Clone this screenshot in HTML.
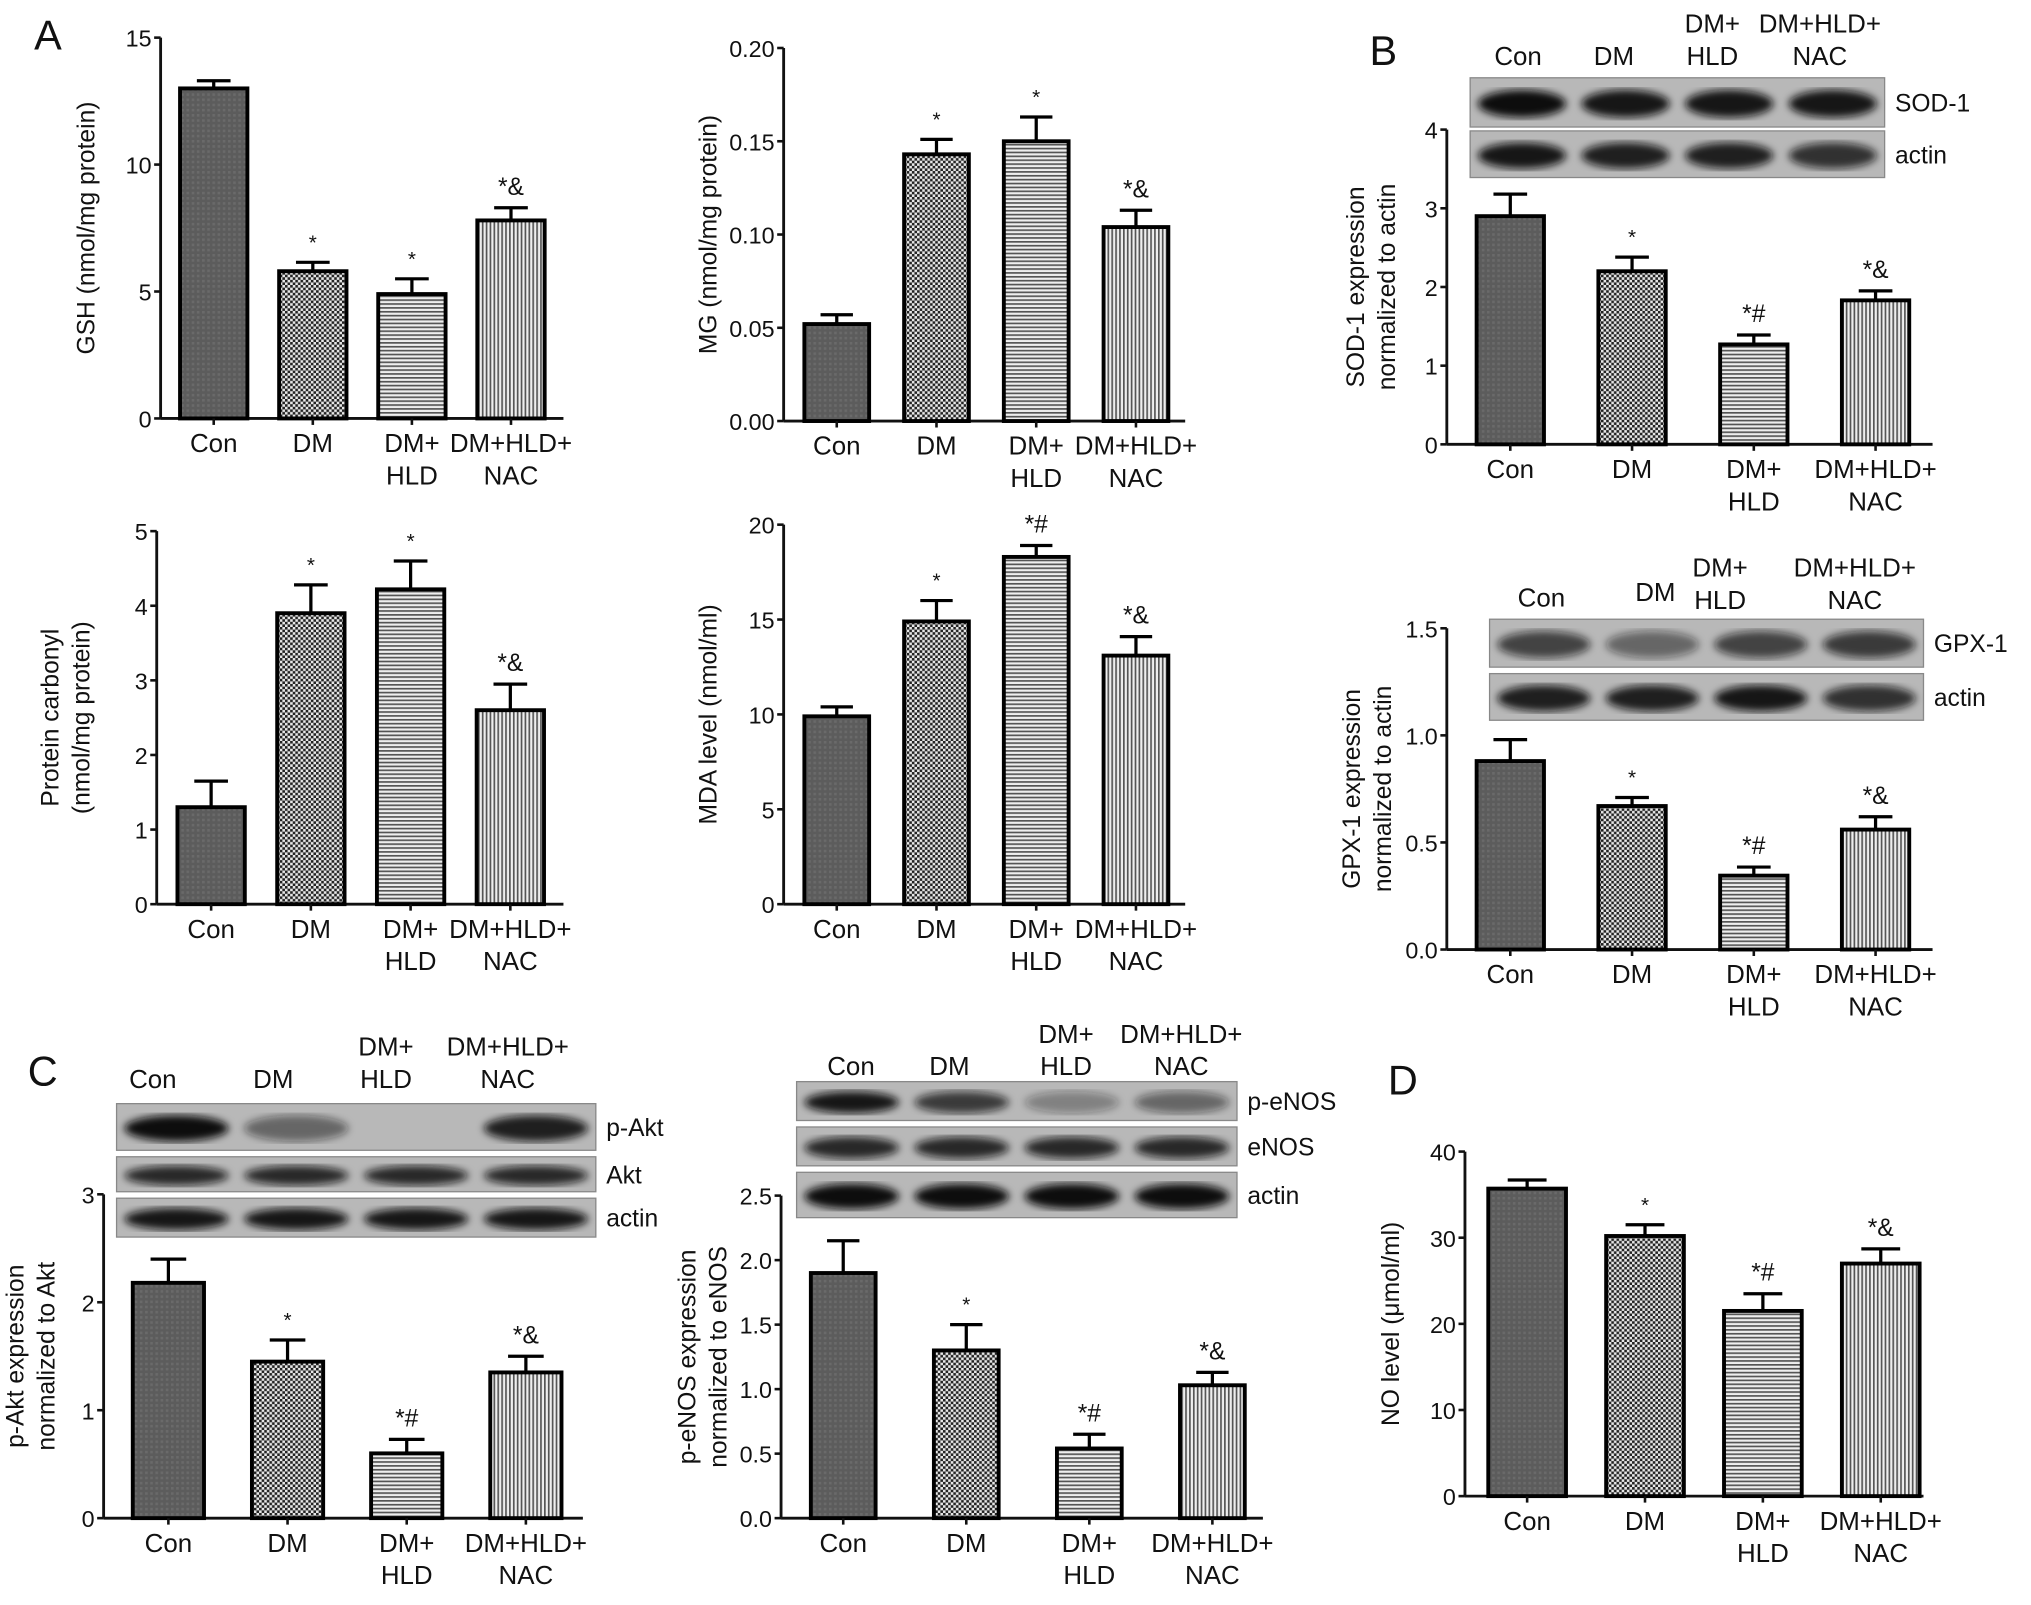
<!DOCTYPE html>
<html><head><meta charset="utf-8"><style>
html,body{margin:0;padding:0;background:#fff}
svg{display:block}
text{font-family:"Liberation Sans",sans-serif;fill:#111}
</style></head><body>
<svg id="fig" width="2031" height="1605" viewBox="0 0 1568 1239" xmlns="http://www.w3.org/2000/svg">
<defs>
<pattern id="pCon" width="4" height="4" patternUnits="userSpaceOnUse"><rect width="4" height="4" fill="#5c5c5c"/><rect width="2" height="2" fill="#6a6a6a"/></pattern>
<pattern id="pDM" width="4" height="4" patternUnits="userSpaceOnUse"><rect width="4" height="4" fill="#e8e8e8"/><rect width="2" height="2" fill="#222"/><rect x="2" y="2" width="2" height="2" fill="#222"/></pattern>
<pattern id="pHLD" width="4" height="3" patternUnits="userSpaceOnUse"><rect width="4" height="3" fill="#eee"/><rect width="4" height="1.3" fill="#555"/></pattern>
<pattern id="pNAC" width="3" height="4" patternUnits="userSpaceOnUse"><rect width="3" height="4" fill="#eee"/><rect width="1.3" height="4" fill="#555"/></pattern>
<filter id="blur"><feGaussianBlur stdDeviation="3"/></filter>
</defs>
<g id="root"></g>
</svg>
<script>
const NS="http://www.w3.org/2000/svg";
const categories=[["Con"],["DM"],["DM+","HLD"],["DM+HLD+","NAC"]];
const gshValues=[13.0,5.8,4.9,7.8];
const gshErrors=[0.3,0.35,0.6,0.5];
const gshAnn=["","*","*","*&"];
const gshTicks=[0,5,10,15];
const mgValues=[0.052,0.143,0.150,0.104];
const mgErrors=[0.005,0.008,0.013,0.009];
const mgAnn=["","*","*","*&"];
const mgTicks=["0.00","0.05","0.10","0.15","0.20"];
const pcValues=[1.3,3.9,4.22,2.6];
const pcErrors=[0.35,0.38,0.38,0.35];
const pcAnn=["","*","*","*&"];
const pcTicks=[0,1,2,3,4,5];
const mdaValues=[9.9,14.9,18.3,13.1];
const mdaErrors=[0.5,1.1,0.6,1.0];
const mdaAnn=["","*","*#","*&"];
const mdaTicks=[0,5,10,15,20];
const sodValues=[2.9,2.2,1.27,1.83];
const sodErrors=[0.28,0.18,0.12,0.12];
const sodAnn=["","*","*#","*&"];
const sodTicks=[0,1,2,3,4];
const gpxValues=[0.88,0.67,0.345,0.56];
const gpxErrors=[0.1,0.04,0.04,0.06];
const gpxAnn=["","*","*#","*&"];
const gpxTicks=["0.0","0.5","1.0","1.5"];
const aktValues=[2.18,1.45,0.6,1.35];
const aktErrors=[0.22,0.2,0.13,0.15];
const aktAnn=["","*","*#","*&"];
const aktTicks=[0,1,2,3];
const enosValues=[1.9,1.3,0.54,1.03];
const enosErrors=[0.25,0.2,0.11,0.1];
const enosAnn=["","*","*#","*&"];
const enosTicks=["0.0","0.5","1.0","1.5","2.0","2.5"];
const noValues=[35.7,30.2,21.5,27.0];
const noErrors=[1.0,1.3,2.0,1.7];
const noAnn=["","*","*#","*&"];
const noTicks=[0,10,20,30,40];
const fills=["url(#pCon)","url(#pDM)","url(#pHLD)","url(#pNAC)"];
const root=document.getElementById('root');
function el(tag,attrs,parent){const e=document.createElementNS(NS,tag);for(const k in attrs)e.setAttribute(k,attrs[k]);(parent||root).appendChild(e);return e;}
function txt(s,x,y,size,parent,anchor){const t=el('text',{x:x,y:y,'font-size':size,'text-anchor':anchor||'middle'},parent);t.textContent=s;return t;}

function chart(o){
  const g=el('g',{});
  
  
  const maxV=parseFloat(o.ticks[o.ticks.length-1]);
  const y=v=>o.y0-(v/maxV)*(o.y0-o.yTop);
  const xc=i=>o.x0+i*o.step;
  const ya=el('line',{x1:o.ax,y1:o.yTop,x2:o.ax,y2:o.y0,stroke:'#111','stroke-width':2.2},g);
  
  const xa=el('line',{x1:o.ax,y1:o.y0,x2:o.axEnd,y2:o.y0,stroke:'#111','stroke-width':2.2},g);
  
  o.ticks.forEach(t=>{const v=parseFloat(t);const yy=y(v);
    el('line',{x1:o.ax-5,y1:yy,x2:o.ax,y2:yy,stroke:'#111','stroke-width':2},g);
    const tl=txt(String(t),o.ax-7,yy+7,o.tickSize||18,g,'end');
    });
  o.values.forEach((v,i)=>{
    const cx=xc(i),w=o.bw;
    const r=el('rect',{x:cx-w/2,y:y(v),width:w,height:o.y0-y(v),fill:fills[i],stroke:'#000','stroke-width':3},g);
    
    
    const e=o.errors[i],ye=y(v+e);
    el('line',{x1:cx,y1:y(v),x2:cx,y2:ye,stroke:'#000','stroke-width':2.5},g);
    el('line',{x1:cx-w*0.25,y1:ye,x2:cx+w*0.25,y2:ye,stroke:'#000','stroke-width':2.5},g);
    if(o.ann[i]){const a=txt(o.ann[i],cx,ye-10,o.ann[i]=='*'?16:19,g);}
    el('line',{x1:cx,y1:o.y0,x2:cx,y2:o.y0+5,stroke:'#111','stroke-width':2},g);
    categories[i].forEach((s,k)=>{const c=txt(s,cx,o.y0+26+k*25,20,g);});
  });
  o.title.forEach((s,k)=>{const tx=o.titleX+k*24;const t=txt(s,tx,(o.yTop+o.y0)/2,19,g);t.setAttribute('transform','rotate(-90 '+tx+' '+((o.yTop+o.y0)/2)+')');});
}
function blot(o){
  const g=el('g',{});
  
  
  o.strips.forEach(s=>{
    el('rect',{x:o.x,y:s.y,width:o.w,height:s.h,fill:'#b8b8b8',stroke:'#888','stroke-width':1},g);
    s.int.forEach((a,i)=>{if(a<=0)return;const cx=o.x+o.w*(i+0.5)/4;
      el('ellipse',{cx:cx,cy:s.y+s.h/2+1,rx:o.w/8-6,ry:s.h*0.28,fill:'#111','fill-opacity':a,filter:'url(#blur)'},g);});
    const l=txt(s.label,o.x+o.w+8,s.y+s.h/2+7,19,g,'start');
  });
  o.cols.forEach(c=>{c.t.forEach((s,k)=>{const t=txt(s,c.x,c.y+k*25,20,g);});});
}
[["A",37,38],["B",1068,50],["C",33,838],["D",1083,845]].forEach(p=>{const t=txt(p[0],p[1],p[2],32,root);});

chart({name:'gsh-chart',values:gshValues,errors:gshErrors,ann:gshAnn,ticks:gshTicks,ax:124,axEnd:435,yTop:29,y0:323,x0:165,step:76.5,bw:52,title:['GSH (nmol/mg protein)'],titleX:73});
chart({name:'mg-chart',values:mgValues,errors:mgErrors,ann:mgAnn,ticks:mgTicks,ax:605,axEnd:915,yTop:37,y0:325,x0:646,step:77,bw:50,title:['MG (nmol/mg protein)'],titleX:553});
chart({name:'protein-carbonyl-chart',values:pcValues,errors:pcErrors,ann:pcAnn,ticks:pcTicks,ax:121,axEnd:435,yTop:410,y0:698,x0:163,step:77,bw:52,title:['Protein carbonyl','(nmol/mg protein)'],titleX:45});
chart({name:'mda-chart',values:mdaValues,errors:mdaErrors,ann:mdaAnn,ticks:mdaTicks,ax:605,axEnd:915,yTop:405,y0:698,x0:646,step:77,bw:50,title:['MDA level (nmol/ml)'],titleX:553});
chart({name:'sod1-chart',values:sodValues,errors:sodErrors,ann:sodAnn,ticks:sodTicks,ax:1117,axEnd:1492,yTop:100,y0:343,x0:1166,step:94,bw:52,title:['SOD-1 expression','normalized to actin'],titleX:1053});
chart({name:'gpx1-chart',values:gpxValues,errors:gpxErrors,ann:gpxAnn,ticks:gpxTicks,ax:1117,axEnd:1492,yTop:485,y0:733,x0:1166,step:94,bw:52,title:['GPX-1 expression','normalized to actin'],titleX:1050});
chart({name:'p-akt-chart',values:aktValues,errors:aktErrors,ann:aktAnn,ticks:aktTicks,ax:80,axEnd:450,yTop:922,y0:1172,x0:130,step:92,bw:55,title:['p-Akt expression','normalized to Akt'],titleX:18});
chart({name:'p-enos-chart',values:enosValues,errors:enosErrors,ann:enosAnn,ticks:enosTicks,ax:603,axEnd:975,yTop:923,y0:1172,x0:651,step:95,bw:50,title:['p-eNOS expression','normalized to eNOS'],titleX:537});
chart({name:'no-chart',values:noValues,errors:noErrors,ann:noAnn,ticks:noTicks,ax:1131,axEnd:1485,yTop:889,y0:1155,x0:1179,step:91,bw:60,title:['NO level (μmol/ml)'],titleX:1080});

blot({name:'sod1-blot',x:1135,w:320,strips:[{y:60,h:38,label:'SOD-1',int:[1,0.95,0.95,0.95]},{y:101,h:36,label:'actin',int:[0.95,0.9,0.9,0.8]}],
  cols:[{x:1172,y:50,t:['Con']},{x:1246,y:50,t:['DM']},{x:1322,y:25,t:['DM+','HLD']},{x:1405,y:25,t:['DM+HLD+','NAC']}]});
blot({name:'gpx1-blot',x:1150,w:335,strips:[{y:478,h:37,label:'GPX-1',int:[0.7,0.5,0.7,0.75]},{y:520,h:36,label:'actin',int:[0.9,0.9,0.95,0.8]}],
  cols:[{x:1190,y:468,t:['Con']},{x:1278,y:464,t:['DM']},{x:1328,y:445,t:['DM+','HLD']},{x:1432,y:445,t:['DM+HLD+','NAC']}]});
blot({name:'akt-blot',x:90,w:370,strips:[{y:852,h:36,label:'p-Akt',int:[1,0.5,0,0.9]},{y:893,h:27,label:'Akt',int:[0.85,0.85,0.85,0.85]},{y:925,h:30,label:'actin',int:[0.95,0.95,0.95,0.95]}],
  cols:[{x:118,y:840,t:['Con']},{x:211,y:840,t:['DM']},{x:298,y:815,t:['DM+','HLD']},{x:392,y:815,t:['DM+HLD+','NAC']}]});
blot({name:'enos-blot',x:615,w:340,strips:[{y:835,h:30,label:'p-eNOS',int:[0.95,0.75,0.35,0.5]},{y:870,h:30,label:'eNOS',int:[0.85,0.85,0.85,0.85]},{y:905,h:35,label:'actin',int:[1,1,1,1]}],
  cols:[{x:657,y:830,t:['Con']},{x:733,y:830,t:['DM']},{x:823,y:805,t:['DM+','HLD']},{x:912,y:805,t:['DM+HLD+','NAC']}]});
</script>
</body></html>
